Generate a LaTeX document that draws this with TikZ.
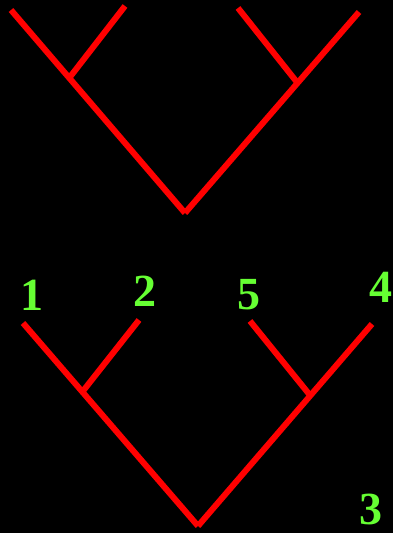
\documentclass[tikz,border=0pt]{standalone}
\usepackage{fontspec}
\setmainfont{Liberation Serif}
\usepackage{tikz}
\definecolor{treered}{HTML}{FF0000}
\definecolor{leafgreen}{HTML}{66FF33}
\tikzset{
  branch/.style={draw=treered, line width=6pt},
  leaf/.style={text=leafgreen, font=\fontsize{46}{46}\selectfont\bfseries, inner sep=0pt}
}

\begin{document}
\begin{tikzpicture}[x=1pt, y=-1pt]
				\fill[black] (0,0) rectangle (393,533);
				\useasboundingbox (0,0) rectangle (393,533);
				% upper tree
				\coordinate (troot) at (185,213);
				\coordinate (tl) at (70,77);
				\coordinate (tr) at (296,81);
				\coordinate (tla) at (11,10);
				\coordinate (tlb) at (125,6);
				\coordinate (tra) at (238,8);
				\coordinate (trb) at (359,12);
				\draw[branch] (troot) -- (tla);
				\draw[branch] (tl) -- (tlb);
				\draw[branch] (troot) -- (trb);
				\draw[branch] (tr) -- (tra);
				% lower tree
				\coordinate (broot) at (198,526);
				\coordinate (bl) at (83,391);
				\coordinate (br) at (309,394);
				\coordinate (bla) at (23,323);
				\coordinate (blb) at (139,320);
				\coordinate (bra) at (250,321);
				\coordinate (brb) at (372,324);
				\draw[branch] (broot) -- (bla);
				\draw[branch] (bl) -- (blb);
				\draw[branch] (broot) -- (brb);
				\draw[branch] (br) -- (bra);
				% labels
				\node[leaf] (n1) at (32,295) {1};
				\node[leaf] (n2) at (145,291) {2};
				\node[leaf] (n5) at (249,295) {5};
				\node[leaf] (n4) at (381,287) {4};
				\node[leaf] (n3) at (371,509) {3};
\end{tikzpicture}
\end{document}
